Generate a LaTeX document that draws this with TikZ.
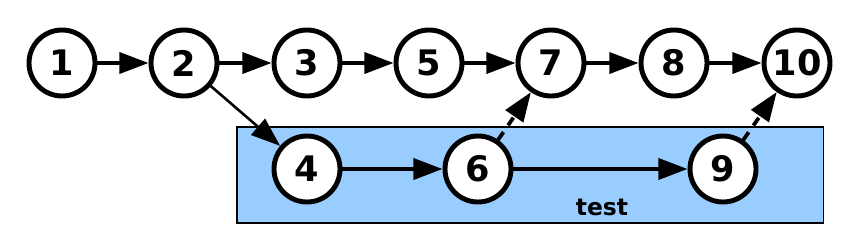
\documentclass[tikz,border=0pt]{standalone}
\usepackage{fontspec}
\setmainfont{DejaVu Sans}
\usetikzlibrary{arrows.meta,positioning}
\definecolor{tblue}{HTML}{99CCFF}
\tikzset{
  num/.style={circle,draw=black,fill=white,line width=4.2pt,minimum size=1.98cm,inner sep=0pt,font=\fontsize{30}{30}\selectfont\bfseries},
  grp/.style={draw=black,fill=tblue,line width=0.9pt,minimum width=17.58cm,minimum height=2.88cm,inner sep=0pt},
  arr/.style={-{Triangle[length=25pt,width=18pt]},line width=3.2pt},
  tarr/.style={arr,line width=2.2pt},
  darr/.style={arr,dash pattern=on 8pt off 7pt},
}
\begin{document}
\begin{tikzpicture}[x=0.03cm,y=-0.03cm]
  \useasboundingbox (0,0) rectangle (853,246);
  % group box
  \node[grp] (box) at (530,175) {};
  \node[font=\fontsize{20}{20}\selectfont\bfseries] (lbl) at (602,207) {test};
  % main row
  \node[num] (n1) at (62,63) {1};
  \node[num] (n2) at (184,63) {2};
  \node[num] (n3) at (307,63) {3};
  \node[num] (n5) at (429,63) {5};
  \node[num] (n7) at (551,63) {7};
  \node[num] (n8) at (674,63) {8};
  \node[num] (n10) at (797,63) {10};
  % inside the box
  \node[num] (n4) at (307,169) {4};
  \node[num] (n6) at (478,169) {6};
  \node[num] (n9) at (723,169) {9};
  \draw[arr] (n1) -- (n2);
  \draw[arr] (n2) -- (n3);
  \draw[arr] (n3) -- (n5);
  \draw[arr] (n5) -- (n7);
  \draw[arr] (n7) -- (n8);
  \draw[arr] (n8) -- (n10);
  \draw[tarr] (n2) -- (n4);
  \draw[arr] (n4) -- (n6);
  \draw[arr] (n6) -- (n9);
  \draw[darr] (n6) -- (n7);
  \draw[darr] (n9) -- (n10);
\end{tikzpicture}
\end{document}
